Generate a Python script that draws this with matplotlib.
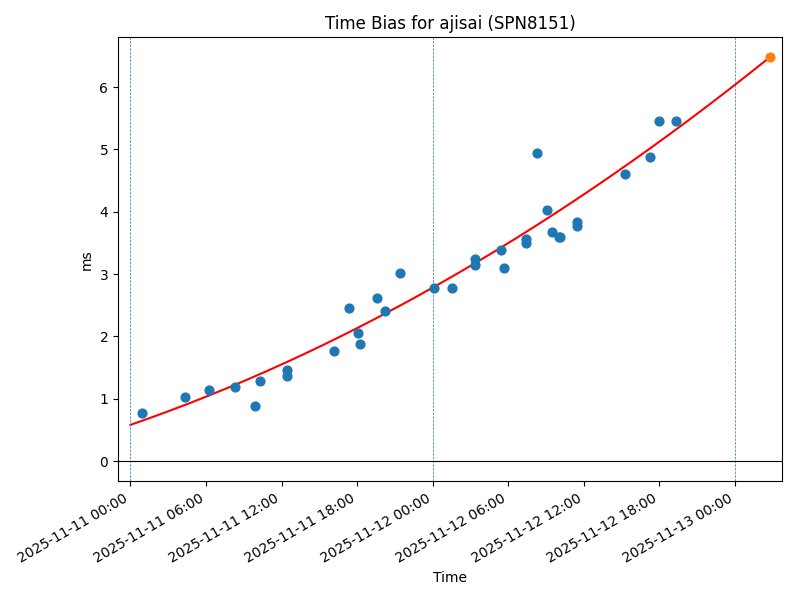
import numpy as np
import matplotlib
matplotlib.use("Agg")
import matplotlib.pyplot as plt
import matplotlib.dates as mdates
from datetime import datetime, timedelta

t0 = datetime(2025, 11, 11, 0, 0)

# observation times (hours after 2025-11-11 00:00) and time bias (ms)
obs_hours = [0.94, 4.35, 6.27, 8.33, 9.9, 10.3, 12.4, 12.4,
             16.15, 17.35, 18.1, 18.2, 19.55, 20.2, 21.43,
             24.1, 25.55, 27.4, 27.4, 29.4, 29.7, 31.4, 31.4,
             32.3, 33.1, 33.45, 34.05, 34.15, 35.45, 35.5,
             39.25, 41.3, 42.0, 43.3]
obs_ms = [0.77, 1.03, 1.14, 1.19, 0.88, 1.28, 1.46, 1.37,
          1.76, 2.46, 2.05, 1.88, 2.62, 2.41, 3.01,
          2.78, 2.78, 3.24, 3.15, 3.39, 3.10, 3.57, 3.50,
          4.95, 4.03, 3.68, 3.60, 3.60, 3.83, 3.77,
          4.60, 4.87, 5.45, 5.45]

# fitted trend (quadratic coefficients: c0 + c1*h + c2*h^2)
fit_coef = [0.58, 0.0698, 0.000913]
fit_start_h = 0.0
pred_h = 50.8

day_lines = [datetime(2025, 11, 11), datetime(2025, 11, 12), datetime(2025, 11, 13)]

def to_dt(h):
    return t0 + timedelta(hours=float(h))

fig, ax = plt.subplots(figsize=(8, 6), dpi=100)
fig.subplots_adjust(left=0.1475, right=0.9775, top=0.938, bottom=0.198)

x_obs = [to_dt(h) for h in obs_hours]
ax.scatter(x_obs, obs_ms, color="C0", s=40, zorder=3)

hh = np.linspace(fit_start_h, pred_h, 200)
yy = fit_coef[0] + fit_coef[1] * hh + fit_coef[2] * hh ** 2
ax.plot([to_dt(h) for h in hh], yy, color="red", zorder=2)

pred_y = fit_coef[0] + fit_coef[1] * pred_h + fit_coef[2] * pred_h ** 2
ax.scatter([to_dt(pred_h)], [pred_y], color="C1", s=40, zorder=4)

for d in day_lines:
    ax.axvline(d, color="C0", linestyle="--", linewidth=0.5)
ax.axhline(0, color="black", linewidth=0.8)

ax.set_xlim(to_dt(-0.99), to_dt(51.75))
ax.set_ylim(-0.324, 6.80)
ax.xaxis.set_major_locator(mdates.HourLocator(byhour=[0, 6, 12, 18]))
ax.xaxis.set_major_formatter(mdates.DateFormatter("%Y-%m-%d %H:%M"))
for lbl in ax.get_xticklabels():
    lbl.set_rotation(30)
    lbl.set_ha("right")

ax.set_title("Time Bias for ajisai (SPN8151)")
ax.set_xlabel("Time")
ax.set_ylabel("ms")

fig.savefig("out.png", dpi=100)
